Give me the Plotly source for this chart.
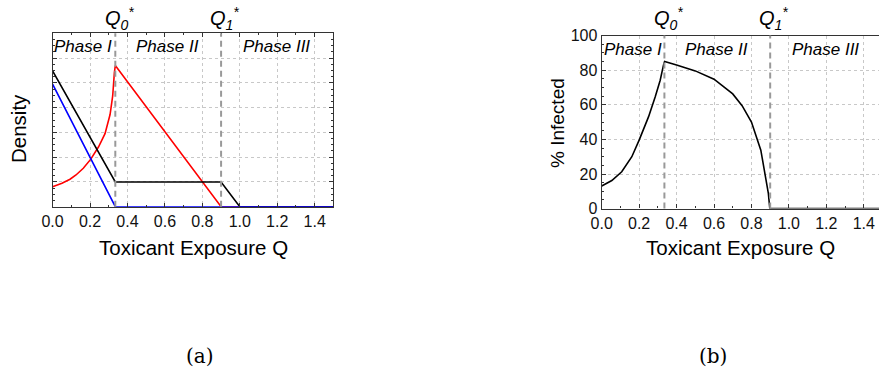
import plotly.graph_objects as go

# ---------------- data ----------------
# panel (a): densities vs toxicant exposure Q
q_red = [0.0, 0.05, 0.093, 0.125, 0.164, 0.204, 0.245, 0.280, 0.307, 0.321, 0.330, 0.335, 0.90, 1.50]
red = [0.81, 0.95, 1.11, 1.28, 1.55, 1.92, 2.41, 2.95, 3.72, 4.47, 5.41, 5.70, 0.0, 0.0]
q_black = [0.0, 0.335, 0.90, 1.0, 1.50]
black = [5.48, 1.0, 1.0, 0.0, 0.0]
q_blue = [0.0, 0.335, 1.50]
blue = [4.95, 0.0, 0.0]

# panel (b): % infected vs toxicant exposure Q
q_inf = [0.0, 0.054, 0.107, 0.161, 0.20, 0.25, 0.286, 0.3125, 0.33, 0.336,
         0.40, 0.50, 0.60, 0.70, 0.75, 0.80, 0.85, 0.87, 0.89, 0.898, 1.50]
infected = [13.1, 16.2, 21.3, 30.0, 39.6, 53.0, 64.6, 74.2, 82.9, 85.0,
            83.0, 79.6, 74.8, 66.3, 59.5, 50.0, 33.8, 22.5, 9.0, 0.0, 0.0]

# phase boundaries
q_thresholds = [0.335, 0.90]
q_labels = ["<i>Q<sub>0</sub><sup>*</sup></i>", "<i>Q<sub>1</sub><sup>*</sup></i>"]
phase_names = ["Phase I", "Phase II", "Phase III"]
phase_centers = [0.165, 0.615, 1.195]
x_ticks = [0.0, 0.2, 0.4, 0.6, 0.8, 1.0, 1.2, 1.4]
y_ticks_b = [0, 20, 40, 60, 80, 100]

FONT = "Liberation Sans, Arial, Helvetica, sans-serif"
W, H = 879, 374

fig = go.Figure()

fig.add_trace(go.Scatter(x=q_red, y=red, mode="lines", line=dict(color="#ff0000", width=1.6),
                         xaxis="x", yaxis="y", showlegend=False))
fig.add_trace(go.Scatter(x=q_black, y=black, mode="lines", line=dict(color="#000000", width=1.6),
                         xaxis="x", yaxis="y", showlegend=False))
fig.add_trace(go.Scatter(x=q_blue, y=blue, mode="lines", line=dict(color="#0000ff", width=1.6),
                         xaxis="x", yaxis="y", showlegend=False))
fig.add_trace(go.Scatter(x=q_inf, y=infected, mode="lines", line=dict(color="#000000", width=1.6),
                         xaxis="x2", yaxis="y2", showlegend=False))

# pixel-based domains (screen pixel coordinates)
def px_x(p):
    return p / W

def px_y(p):
    return (H - p) / H

left_x0, left_x1 = 52.6, 333.4
right_x0 = 601.7
top_a, bot_a = 33.3, 206.7
top_b, bot_b = 35.6, 208.6

grid = dict(showgrid=True, gridcolor="#c8c8c8", gridwidth=1, griddash="dot")
axis_common = dict(showline=True, linecolor="#333333", linewidth=1.3, ticks="inside",
                   ticklen=4, tickcolor="#333333", zeroline=False, automargin=False,
                   tickfont=dict(family=FONT, size=16, color="#111111"), **grid)

fig.update_layout(
    template="none",
    width=W, height=H, margin=dict(l=0, r=0, t=0, b=0, pad=0),
    paper_bgcolor="white", plot_bgcolor="white",
    xaxis=dict(domain=[px_x(left_x0), px_x(left_x1)], range=[0, 1.5], tickvals=x_ticks,
               ticktext=[f"{v:.1f}" for v in x_ticks], mirror="ticks", anchor="y",
               minor=dict(ticks="inside", ticklen=2, dtick=0.1, showgrid=False), **axis_common),
    yaxis=dict(domain=[px_y(bot_a), px_y(top_a)], range=[0, 7], dtick=1, showticklabels=False,
               mirror="ticks", anchor="x",
               minor=dict(ticks="inside", ticklen=2, dtick=0.25, showgrid=False), **axis_common),
    xaxis2=dict(domain=[px_x(right_x0), 1.0], range=[0, (W - right_x0) / 187.2], tickvals=x_ticks,
                ticktext=[f"{v:.1f}" for v in x_ticks], mirror=True, anchor="y2",
                minor=dict(ticks="inside", ticklen=2, dtick=0.1, showgrid=False), **axis_common),
    yaxis2=dict(domain=[px_y(bot_b), px_y(top_b)], range=[0, 100], tickvals=y_ticks_b,
                mirror=False, anchor="x2",
                minor=dict(ticks="inside", ticklen=2, dtick=5, showgrid=False), **axis_common),
)

shapes = []
annotations = []
for xa, ya, top_px in (("x", "y", top_a), ("x2", "y2", top_b)):
    for q, lab in zip(q_thresholds, q_labels):
        shapes.append(dict(type="line", xref=xa, yref=f"{ya} domain", x0=q, x1=q, y0=0, y1=1,
                           line=dict(color="#999999", width=2, dash="6px,4px")))
        annotations.append(dict(xref=xa, yref="paper", x=q + 0.02, y=px_y(19),
                                text=lab, showarrow=False, xanchor="center", yanchor="middle",
                                font=dict(family=FONT, size=20, color="#000000")))
    for c, name in zip(phase_centers, phase_names):
        annotations.append(dict(xref=xa, yref="paper", x=c, y=px_y(top_px + 13.5),
                                text=f"<i>{name}</i>", showarrow=False, xanchor="center",
                                yanchor="middle", font=dict(family=FONT, size=17, color="#000000")))

# axis titles
annotations.append(dict(xref="paper", yref="paper", x=px_x(193), y=px_y(247), text="Toxicant Exposure Q",
                        showarrow=False, xanchor="center", yanchor="middle",
                        font=dict(family=FONT, size=20.5, color="#000000")))
annotations.append(dict(xref="paper", yref="paper", x=px_x(740), y=px_y(247), text="Toxicant Exposure Q",
                        showarrow=False, xanchor="center", yanchor="middle",
                        font=dict(family=FONT, size=20.5, color="#000000")))
annotations.append(dict(xref="paper", yref="paper", x=px_x(18), y=px_y(129), text="Density",
                        textangle=-90, showarrow=False, xanchor="center", yanchor="middle",
                        font=dict(family=FONT, size=20.5, color="#000000")))
annotations.append(dict(xref="paper", yref="paper", x=px_x(557), y=px_y(123), text="% Infected",
                        textangle=-90, showarrow=False, xanchor="center", yanchor="middle",
                        font=dict(family=FONT, size=19, color="#000000")))
# panel labels
annotations.append(dict(xref="paper", yref="paper", x=px_x(200), y=px_y(356), text="(a)",
                        showarrow=False, xanchor="center", yanchor="middle",
                        font=dict(family="DejaVu Serif, Liberation Serif, serif", size=20, color="#000000")))
annotations.append(dict(xref="paper", yref="paper", x=px_x(713), y=px_y(356), text="(b)",
                        showarrow=False, xanchor="center", yanchor="middle",
                        font=dict(family="DejaVu Serif, Liberation Serif, serif", size=20, color="#000000")))

fig.update_layout(shapes=shapes, annotations=annotations)
fig.write_html("out.html", config={"displayModeBar": False},
               post_script="document.body.style.margin='0px';document.body.style.overflow='hidden';")
